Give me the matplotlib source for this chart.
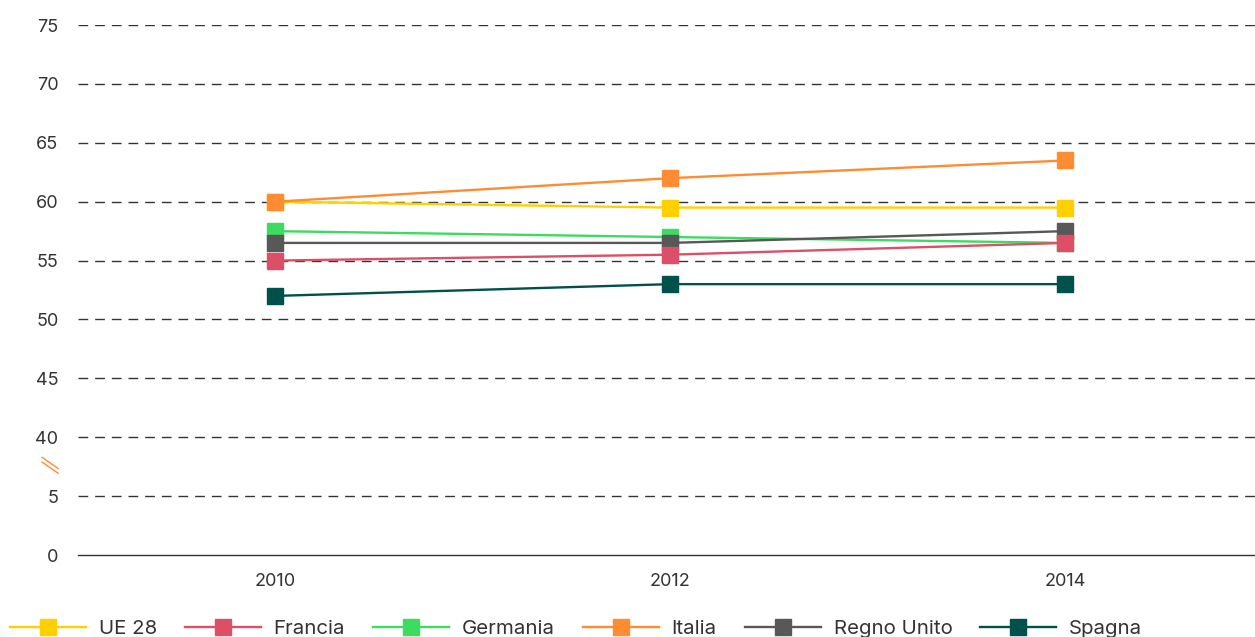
import matplotlib
matplotlib.use("Agg")
from matplotlib import pyplot as plt
import matplotlib.transforms as mtransforms

plt.rcParams['font.family'] = ['Inter', 'DejaVu Sans']

# data
years = ['2010', '2012', '2014']
ue28 = [60, 59.5, 59.5]
francia = [55, 55.5, 56.5]
germania = [57.5, 57, 56.5]
italia = [60, 62, 63.5]
regno_unito = [56.5, 56.5, 57.5]
spagna = [52, 53, 53]

tick_values = [0, 5, 40, 45, 50, 55, 60, 65, 70, 75]


# broken axis: 0-5 then 40-75, all ticks evenly spaced
def squash(v):
    if v <= 5:
        return v / 5
    return 2 + (v - 40) / 5


series = [
    ('UE 28', ue28, '#FFD000', 2),
    ('Francia', francia, '#DC4F66', 4),
    ('Germania', germania, '#3CDC60', 2.5),
    ('Italia', italia, '#FF8C33', 5),
    ('Regno Unito', regno_unito, '#585858', 3),
    ('Spagna', spagna, '#00504B', 6),
]

fig = plt.figure(figsize=(12.55, 6.37), dpi=100)
ax = fig.add_axes([0.062, 0.1287, 0.938, 0.8320])

x = list(range(len(years)))
for name, vals, col, z in series:
    ax.plot(x, [squash(v) for v in vals], color=col, lw=1.7, marker='s',
            markersize=11.5, label=name, zorder=z)

ax.set_xlim(-0.5, 2.48)
ax.set_ylim(0, 9)
ax.set_yticks([squash(v) for v in tick_values])
ax.set_yticklabels([str(v) for v in tick_values])
ax.set_xticks(x)
ax.set_xticklabels(years)

for y in tick_values[1:]:
    ax.axhline(squash(y), color='#333333', lw=1, dashes=(7, 5), zorder=1)

for s in ['top', 'right', 'left']:
    ax.spines[s].set_visible(False)
ax.spines['bottom'].set_color('#333333')
ax.spines['bottom'].set_linewidth(1)
ax.tick_params(axis='both', length=0, labelsize=13, colors='#333333')
ax.tick_params(axis='y', pad=14)
ax.tick_params(axis='x', pad=13)

# break marks
trans = mtransforms.blended_transform_factory(fig.transFigure, ax.transData)
for dy in [0, -0.08]:
    ax.plot([42 / 1255, 58 / 1255], [1.66 + dy, 1.47 + dy], color='#FF8C33',
            lw=1, transform=trans, clip_on=False)

fig.legend(loc='lower left', bbox_to_anchor=(-0.007, -0.031), ncol=6, frameon=False,
           fontsize=14.7, handlelength=3.72, handletextpad=0.64, columnspacing=1.36,
           labelcolor='#333333')

fig.savefig('out.png', dpi=100)
